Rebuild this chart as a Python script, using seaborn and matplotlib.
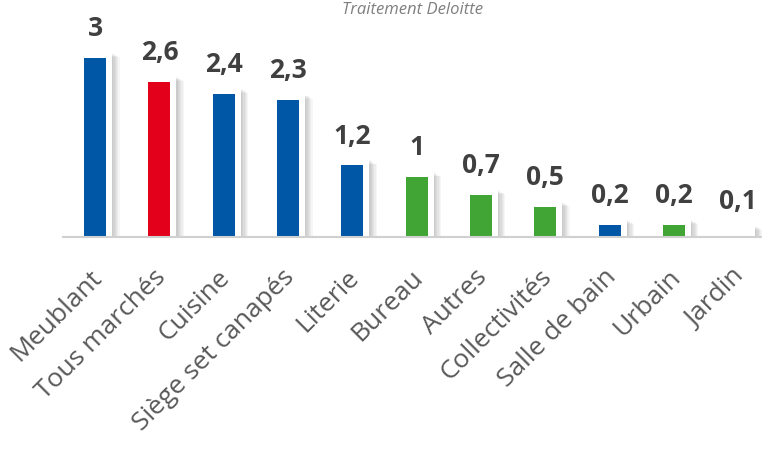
import matplotlib
matplotlib.use("Agg")
import matplotlib.pyplot as plt
import matplotlib.patheffects as pe
from matplotlib.patches import Rectangle
import matplotlib.transforms as mtrans
import seaborn as sns
import pandas as pd

categories = ["Meublant", "Tous marchés", "Cuisine", "Siège set canapés", "Literie",
              "Bureau", "Autres", "Collectivités", "Salle de bain", "Urbain", "Jardin"]
values = [3, 2.6, 2.4, 2.3, 1.2, 1, 0.7, 0.5, 0.2, 0.2, 0.1]
value_labels = ["3", "2,6", "2,4", "2,3", "1,2", "1", "0,7", "0,5", "0,2", "0,2", "0,1"]
bar_colors = ["#0057A6", "#E2001A", "#0057A6", "#0057A6", "#0057A6",
              "#41A535", "#41A535", "#41A535", "#0057A6", "#41A535", "#FFFFFF"]
source_text = "Traitement Deloitte"

df = pd.DataFrame({"cat": categories, "val": values})

sns.set_theme(style="white")
plt.rcParams["font.family"] = ["Open Sans", "DejaVu Sans"]

fig = plt.figure(figsize=(7.62, 4.5), dpi=100)
W, H = 762, 450
left_px, base_px = 63, 237
ax = fig.add_axes([left_px / W, (H - base_px) / H, 1 - left_px / W, base_px / H])

px_per_cat = 64.3
sns.barplot(data=df, x="cat", y="val", hue="cat", palette=bar_colors, legend=False,
            width=22 / px_per_cat, ax=ax, linewidth=0, saturation=1, zorder=3)
ax.set_xlim(-0.5, -0.5 + (W - left_px) / px_per_cat)
ax.set_ylim(0, base_px / 59.6)

# white frame (with soft shadow) around each bar, padded 6 px left/right/top
pad_x = 6 / px_per_cat
pad_y = 6 / 59.6
shadow = [pe.SimplePatchShadow(offset=(k * 0.9, -k * 0.6), shadow_rgbFace="#000000", alpha=0.035)
          for k in range(1, 7)]
for p in list(ax.patches):
    x0, w, h = p.get_x(), p.get_width(), p.get_height()
    frame = Rectangle((x0 - pad_x, 0), w + 2 * pad_x, h + pad_y,
                      facecolor="white", edgecolor="none", zorder=2)
    frame.set_path_effects(shadow + [pe.Normal()])
    ax.add_patch(frame)

for i, (v, lab) in enumerate(zip(values, value_labels)):
    ax.annotate(lab, (i, v), xytext=(0, 15.8), textcoords="offset points",
                ha="center", va="baseline", fontsize=19, fontweight="bold",
                color="#404040", annotation_clip=False)

ax.set_xlabel("")
ax.set_ylabel("")
ax.set_yticks([])
ax.tick_params(axis="x", length=0, pad=20)
ax.set_xticks(range(len(categories)))
ax.set_xticklabels(categories, rotation=45, ha="right", rotation_mode="anchor",
                   fontsize=19, color="#595959")
shift = mtrans.ScaledTranslation(-6 / 100, 0, fig.dpi_scale_trans)
for t in ax.get_xticklabels():
    t.set_transform(t.get_transform() + shift)
for s in ["top", "right", "left"]:
    ax.spines[s].set_visible(False)
ax.spines["bottom"].set_color("#d0d0d0")
ax.spines["bottom"].set_linewidth(1.5)
ax.spines["bottom"].set_zorder(5)

fig.text(413 / W, 1 - 10 / H, source_text, ha="center", va="center",
         fontsize=12, style="italic", color="#7f7f7f")

fig.savefig("out.png", dpi=100)
